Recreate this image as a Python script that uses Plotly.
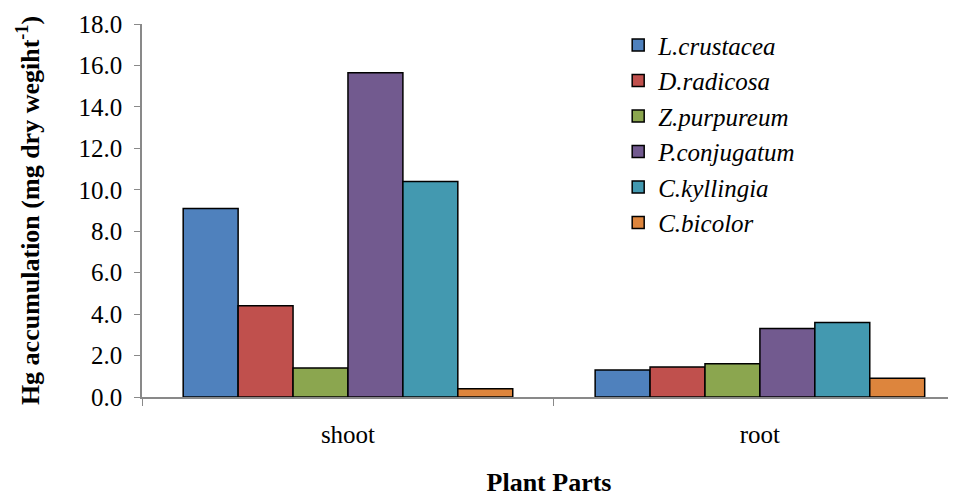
import plotly.graph_objects as go

categories = ["shoot", "root"]
species = ["L.crustacea", "D.radicosa", "Z.purpureum", "P.conjugatum", "C.kyllingia", "C.bicolor"]
lcrustacea = [9.1, 1.3]
dradicosa = [4.4, 1.45]
zpurpureum = [1.4, 1.6]
pconjugatum = [15.65, 3.3]
ckyllingia = [10.4, 3.6]
cbicolor = [0.4, 0.9]
series = [lcrustacea, dradicosa, zpurpureum, pconjugatum, ckyllingia, cbicolor]
colors = ["#4F81BD", "#C0504D", "#8BA64F", "#725A8F", "#4399B0", "#DD853D"]
y_ticks = [0, 2, 4, 6, 8, 10, 12, 14, 16, 18]

fig = go.Figure()
for name, vals, col in zip(species, series, colors):
    fig.add_trace(go.Bar(
        x=categories, y=vals, name="<i>" + name + "</i>", legendgroup=name,
        marker=dict(color=col, line=dict(color="black", width=1.5)),
    ))

font = "Liberation Serif"
fig.update_layout(
    width=948, height=489,
    margin=dict(l=134, r=0, t=16, b=100),
    paper_bgcolor="white", plot_bgcolor="white",
    barmode="group", bargap=0.2, bargroupgap=0,
    font=dict(family=font, size=25, color="black"),
    showlegend=True,
    legend=dict(x=0.585, y=1.005, xanchor="left", yanchor="top",
                font=dict(family=font, size=25, color="black"),
                traceorder="grouped", tracegroupgap=0,
                bgcolor="rgba(0,0,0,0)"),
    xaxis=dict(
        range=[-0.5, 1.476], showline=True, linecolor="#898989", linewidth=1.5,
        ticks="outside", tickson="boundaries", ticklen=7, tickcolor="#898989",
        ticklabelstandoff=14,
        title=dict(text="<b>Plant Parts</b>", standoff=31, font=dict(size=26)),
        showgrid=False, zeroline=False,
    ),
    yaxis=dict(
        range=[0, 18], tickvals=y_ticks, tickformat=".1f",
        showline=True, linecolor="#898989", linewidth=1.5,
        ticks="outside", ticklen=6, tickcolor="#898989",
        ticklabelstandoff=7,
        title=dict(text="<b>Hg accumulation (mg dry wegiht<sup>-1</sup>)</b>", standoff=31,
                   font=dict(size=26)),
        showgrid=False, zeroline=False,
    ),
)

fig.write_html("out.html")
